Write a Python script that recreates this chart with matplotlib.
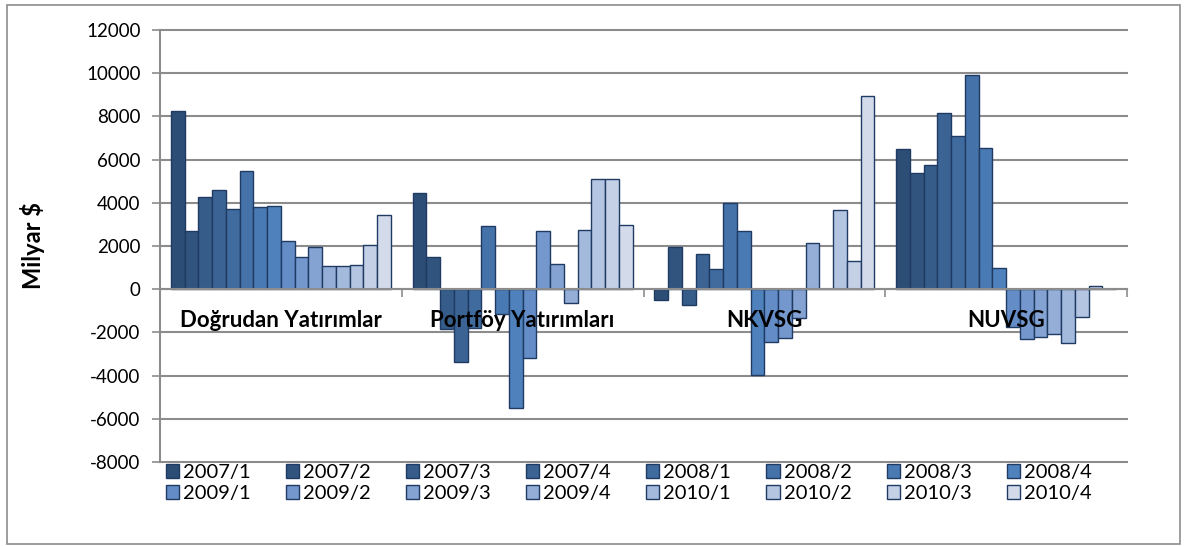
import matplotlib
matplotlib.use("Agg")
import matplotlib.pyplot as plt
from matplotlib.patches import Rectangle
import numpy as np

plt.rcParams['font.family'] = ['Lato', 'DejaVu Sans']

categories = ["Doğrudan Yatırımlar", "Portföy Yatırımları", "NKVSG", "NUVSG"]
periods = ["2007/1", "2007/2", "2007/3", "2007/4", "2008/1", "2008/2", "2008/3", "2008/4",
           "2009/1", "2009/2", "2009/3", "2009/4", "2010/1", "2010/2", "2010/3", "2010/4"]

dogrudan = [8260, 2690, 4290, 4600, 3720, 5450, 3790, 3850,
            2220, 1510, 1970, 1060, 1090, 1120, 2060, 3420]
portfoy = [4460, 1480, -1820, -3380, -1800, 2920, -1170, -5510,
           -3170, 2710, 1170, -620, 2750, 5080, 5110, 2990]
nkvsg = [-510, 1950, -750, 1630, 920, 3970, 2710, -3970,
         -2440, -2280, -1340, 2120, 0, 3660, 1320, 8950]
nuvsg = [6510, 5400, 5750, 8140, 7080, 9910, 6550, 1000,
         -1750, -2320, -2230, -2080, -2480, -1290, 150, 30]

yticks = [-8000, -6000, -4000, -2000, 0, 2000, 4000, 6000, 8000, 10000, 12000]

values = np.array([dogrudan, portfoy, nkvsg, nuvsg])  # (4 categories, 16 series)


def ramp(c0, c1, n):
    c0 = np.array(c0) / 255.0
    c1 = np.array(c1) / 255.0
    return [tuple(c0 + (c1 - c0) * t) for t in np.linspace(0, 1, n)]


colors = ramp((44, 77, 117), (79, 129, 189), 8) + ramp((100, 141, 200), (211, 219, 235), 8)
edge = "#1F3B63"
grid_c = "#8C8C8C"

W, H = 1186, 546
fig = plt.figure(figsize=(W / 100, H / 100), dpi=100)
ax = fig.add_axes([160 / W, 1 - 462 / H, (1127 - 160) / W, (462 - 30) / H])

n = len(periods)
group_w = 0.91
bw = group_w / n
x = np.arange(len(categories))
handles = []
for i, p in enumerate(periods):
    offs = -group_w / 2 + bw * (i + 0.5)
    b = ax.bar(x + offs, values[:, i], width=bw, color=colors[i], edgecolor=edge,
               linewidth=1.0, label=p, zorder=3)
    handles.append(b)

ax.set_xlim(-0.5, len(categories) - 0.5)
ax.set_ylim(-8000, 12000)
ax.set_yticks(yticks)
ax.set_yticklabels([str(v) for v in yticks], fontsize=13.5)
ax.yaxis.grid(True, color=grid_c, linewidth=1.5, zorder=0)
ax.set_axisbelow(True)
for g in ax.get_ygridlines():
    g.set_clip_on(False)

ax.spines['top'].set_visible(False)
ax.spines['right'].set_visible(False)
ax.spines['left'].set_color(grid_c)
ax.spines['left'].set_linewidth(1.5)
ax.spines['bottom'].set_position(('data', 0))
ax.spines['bottom'].set_color(grid_c)
ax.spines['bottom'].set_linewidth(1.5)
ax.spines['bottom'].set_zorder(4)

ax.set_xticks(np.arange(len(categories) + 1) - 0.5)
ax.set_xticklabels([])
ax.tick_params(axis='x', direction='out', length=6, width=1.2, color=grid_c)
ax.tick_params(axis='y', direction='out', length=6, width=1.2, color=grid_c, pad=8)

for i, c in enumerate(categories):
    ax.text(x[i], -1450, c, ha='center', va='center', fontsize=16,
            fontweight='bold', color='black', zorder=6)

ax.set_ylabel("Milyar $", fontsize=17, fontweight='bold')
ax.yaxis.set_label_coords((45 - 160) / (1127 - 160), 0.5)

# legend: row-wise ordering (8 columns, 2 rows)
ncol = 8
order = []
for c in range(ncol):
    order += [c, c + ncol]


def make_legend(cs):
    return fig.legend([handles[k] for k in order], [periods[k] for k in order],
                      ncol=ncol, loc='upper left', bbox_to_anchor=(160 / W, 1 - 458 / H),
                      frameon=False, fontsize=14.5, handlelength=0.65, handleheight=0.65,
                      handletextpad=0.2, columnspacing=cs, labelspacing=0.2,
                      borderaxespad=0, borderpad=0.3)


cs = 2.0
leg = make_legend(cs)
target = 1098 - 160
for _ in range(3):
    fig.canvas.draw()
    w = leg.get_window_extent().width
    fs_px = 14.5 * 100 / 72
    cs = cs + (target - w) / (ncol - 1) / fs_px
    leg.remove()
    leg = make_legend(cs)

fig.patches.append(Rectangle((7 / W, 2 / H), 1173 / W, 539 / H, transform=fig.transFigure,
                             fill=False, edgecolor="#8C8C8C", linewidth=1.2))

fig.savefig("out.png", dpi=100)
